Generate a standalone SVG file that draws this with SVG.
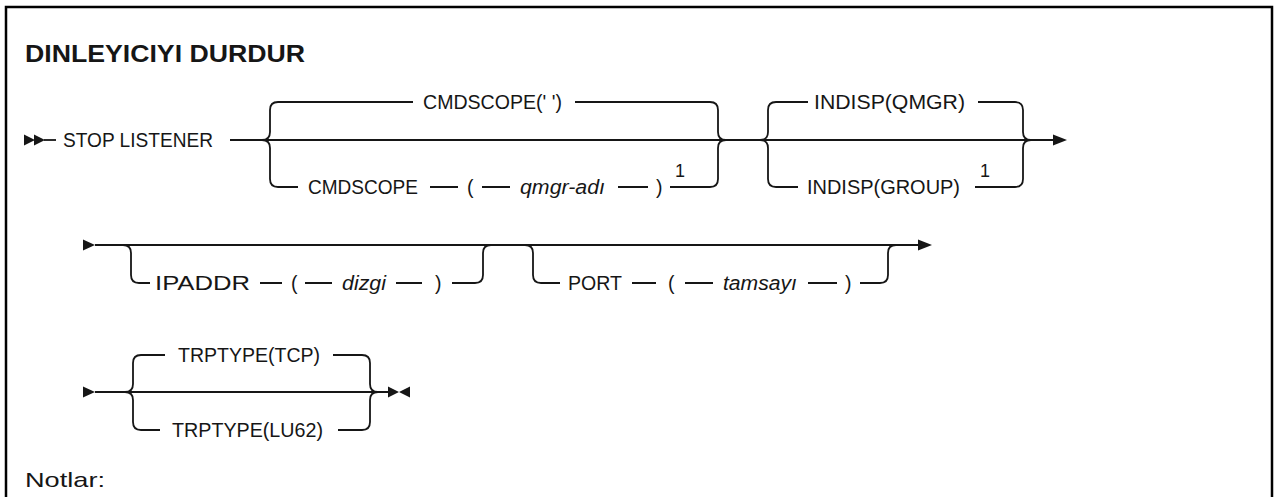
<svg xmlns="http://www.w3.org/2000/svg" width="1274" height="497" viewBox="0 0 1274 497">
<style>
.t{font-family:"Liberation Sans",Arial,sans-serif;font-size:19.5px;fill:#161616}
.i{font-style:italic}
.n{font-family:"Liberation Sans",Arial,sans-serif;font-size:18px;fill:#161616}
.title{font-family:"Liberation Sans",Arial,sans-serif;font-size:24px;font-weight:bold;fill:#161616}
.notes{font-family:"Liberation Sans",Arial,sans-serif;font-size:21px;fill:#161616}
.c{fill:none;stroke:#161616;stroke-width:1.8}
.a{fill:#161616;stroke:none}
</style>
<rect x="0" y="0" width="1274" height="497" fill="#ffffff"/>
<path d="M6,520 V7 H1272 V520" fill="none" stroke="#000" stroke-width="2.5"/>
<g id="title"><text class="title" x="25" y="62" textLength="280" lengthAdjust="spacingAndGlyphs">DINLEYICIYI DURDUR</text></g>

<g id="connectors">
  <!-- row 1 -->
  <path class="a" d="M24,134.5 L35,140 L24,145.5 Z M34,134.5 L45,140 L34,145.5 Z"/>
  <path class="c" d="M44,140 H56"/>
  <path class="c" d="M230,140 H1053"/>
  <path class="a" d="M1053,134.5 L1067,140 L1053,145.5 Z"/>
  <path class="c" d="M262,140 Q270,140 270,132 V110 Q270,102 278,102 H413"/>
  <path class="c" d="M575,102 H710 Q718,102 718,110 V132 Q718,140 726,140"/>
  <path class="c" d="M262,140 Q270,140 270,148 V179 Q270,187 278,187 H298"/>
  <path class="c" d="M430,187 H458 M482,187 H510 M618,187 H648"/>
  <path class="c" d="M670,187 H710 Q718,187 718,179 V148 Q718,140 726,140"/>
  <path class="c" d="M760,140 Q768,140 768,132 V110 Q768,102 776,102 H808"/>
  <path class="c" d="M978,102 H1015 Q1023,102 1023,110 V132 Q1023,140 1031,140"/>
  <path class="c" d="M760,140 Q768,140 768,148 V179 Q768,187 776,187 H798"/>
  <path class="c" d="M975,187 H1015 Q1023,187 1023,179 V148 Q1023,140 1031,140"/>
  <!-- row 2 -->
  <path class="a" d="M83,239.5 L95,245 L83,250.5 Z"/>
  <path class="c" d="M95,245 H918"/>
  <path class="a" d="M918,239.5 L932,245 L918,250.5 Z"/>
  <path class="c" d="M123,245 Q131,245 131,253 V275 Q131,283 139,283 H150"/>
  <path class="c" d="M260,283 H282 M305,283 H332 M396,283 H422"/>
  <path class="c" d="M452,283 H475 Q483,283 483,275 V253 Q483,245 491,245"/>
  <path class="c" d="M525,245 Q533,245 533,253 V275 Q533,283 541,283 H560"/>
  <path class="c" d="M632,283 H656 M685,283 H713 M808,283 H837"/>
  <path class="c" d="M860,283 H880 Q888,283 888,275 V253 Q888,245 896,245"/>
  <!-- row 3 -->
  <path class="a" d="M83,386.5 L95,392 L83,397.5 Z"/>
  <path class="c" d="M95,392 H389"/>
  <path class="a" d="M388,386.5 L399,392 L388,397.5 Z M410,386.5 L399,392 L410,397.5 Z"/>
  <path class="c" d="M125,392 Q133,392 133,384 V363 Q133,355 141,355 H165"/>
  <path class="c" d="M333,355 H362 Q370,355 370,363 V384 Q370,392 378,392"/>
  <path class="c" d="M125,392 Q133,392 133,400 V422 Q133,430 141,430 H160"/>
  <path class="c" d="M338,430 H362 Q370,430 370,422 V400 Q370,392 378,392"/>
</g>

<g id="stop-listener"><text class="t" x="63" y="147" textLength="150" lengthAdjust="spacingAndGlyphs">STOP LISTENER</text></g>
<g id="cmdscope-default"><text class="t" x="423" y="109" textLength="139" lengthAdjust="spacingAndGlyphs">CMDSCOPE(' ')</text></g>
<g id="cmdscope-qmgr">
  <text class="t" x="308" y="194" textLength="110" lengthAdjust="spacingAndGlyphs">CMDSCOPE</text>
  <text class="t" x="467" y="194">(</text>
  <text class="t i" x="520" y="194" textLength="85" lengthAdjust="spacingAndGlyphs">qmgr-adı</text>
  <text class="t" x="656" y="194">)</text>
  <text class="n" x="675" y="177">1</text>
</g>
<g id="indisp-qmgr"><text class="t" x="814" y="109" textLength="151" lengthAdjust="spacingAndGlyphs">INDISP(QMGR)</text></g>
<g id="indisp-group">
  <text class="t" x="807" y="194" textLength="153" lengthAdjust="spacingAndGlyphs">INDISP(GROUP)</text>
  <text class="n" x="980" y="177">1</text>
</g>
<g id="ipaddr">
  <text class="t" x="155" y="290" textLength="95" lengthAdjust="spacingAndGlyphs">IPADDR</text>
  <text class="t" x="291" y="290">(</text>
  <text class="t i" x="342" y="290" textLength="44" lengthAdjust="spacingAndGlyphs">dizgi</text>
  <text class="t" x="435" y="290">)</text>
</g>
<g id="port">
  <text class="t" x="568" y="290" textLength="54" lengthAdjust="spacingAndGlyphs">PORT</text>
  <text class="t" x="668" y="290">(</text>
  <text class="t i" x="723" y="290" textLength="74" lengthAdjust="spacingAndGlyphs">tamsayı</text>
  <text class="t" x="845" y="290">)</text>
</g>
<g id="trptype-tcp"><text class="t" x="178" y="362" textLength="142" lengthAdjust="spacingAndGlyphs">TRPTYPE(TCP)</text></g>
<g id="trptype-lu62"><text class="t" x="172" y="437" textLength="151" lengthAdjust="spacingAndGlyphs">TRPTYPE(LU62)</text></g>
<g id="notes"><text class="notes" x="25" y="487" textLength="80" lengthAdjust="spacingAndGlyphs">Notlar:</text></g>
</svg>
